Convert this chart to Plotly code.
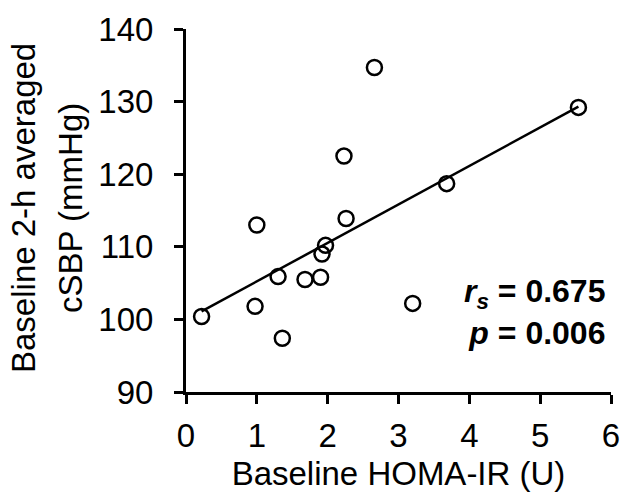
import plotly.graph_objects as go

homa_ir = [0.22, 1.00, 0.975, 1.30, 1.36, 1.68, 1.90, 1.92, 1.97, 2.23, 2.26, 2.66, 3.20, 3.68, 5.54]
csbp = [100.4, 113.0, 101.8, 105.9, 97.4, 105.5, 105.8, 109.0, 110.2, 122.5, 113.9, 134.7, 102.2, 118.7, 129.2]

fit_x = [0.22, 5.54]
fit_y = [101.1, 129.3]

x_ticks = [0, 1, 2, 3, 4, 5, 6]
y_ticks = [90, 100, 110, 120, 130, 140]

x_title = "Baseline HOMA-IR (U)"
y_title_lines = ["Baseline 2-h averaged", "cSBP (mmHg)"]
stat_text = "<b><i>r</i><sub><i>s</i></sub> = 0.675</b><br><b><i>p</i> = 0.006</b>"
stat_pos = (5.95, 101.0)

FONT = "Liberation Sans, Arial, sans-serif"
FS = 33
W, H = 621, 494
ML, MR, MT, MB = 186, 10, 29, 102
PW = W - ML - MR
PH = H - MT - MB


def paper_x(px):
    return (px - ML) / PW


def paper_y(py):
    return (H - MB - py) / PH


fig = go.Figure()
fig.add_trace(go.Scatter(x=fit_x, y=fit_y, mode="lines",
                         line=dict(color="black", width=2.5), showlegend=False))
fig.add_trace(go.Scatter(x=homa_ir, y=csbp, mode="markers",
                         marker=dict(symbol="circle-open", size=15, color="black",
                                     line=dict(color="black", width=2.5)),
                         showlegend=False))

axis_common = dict(showgrid=False, zeroline=False, showline=True, linecolor="black",
                   linewidth=3, ticks="outside", ticklen=9, tickwidth=3, automargin=False,
                   tickcolor="black", tickfont=dict(family=FONT, size=FS, color="black"))

annotations = [dict(
    xref="x", yref="y", x=stat_pos[0], y=stat_pos[1], xanchor="right", yanchor="middle",
    showarrow=False, align="right", text=stat_text,
    font=dict(family=FONT, size=32, color="black"))]

for t, px in zip(y_title_lines, [23, 70]):
    annotations.append(dict(
        xref="paper", yref="paper", x=paper_x(px), y=paper_y(208), xanchor="center",
        yanchor="middle", textangle=-90, showarrow=False, text=t,
        font=dict(family=FONT, size=FS, color="black")))

fig.update_layout(
    width=W, height=H,
    margin=dict(l=ML, r=MR, t=MT, b=MB),
    plot_bgcolor="white", paper_bgcolor="white",
    xaxis=dict(range=[0, 6], tickvals=x_ticks, ticklabelstandoff=3, **axis_common,
               title=dict(text=x_title, standoff=10,
                          font=dict(family=FONT, size=FS, color="black"))),
    yaxis=dict(range=[90, 140], tickvals=y_ticks, ticklabelstandoff=14, **axis_common),
    annotations=annotations,
)

fig.write_html("out.html", config={"displayModeBar": False},
               post_script="document.body.style.margin='0';"
                           "document.documentElement.style.overflow='hidden';")
